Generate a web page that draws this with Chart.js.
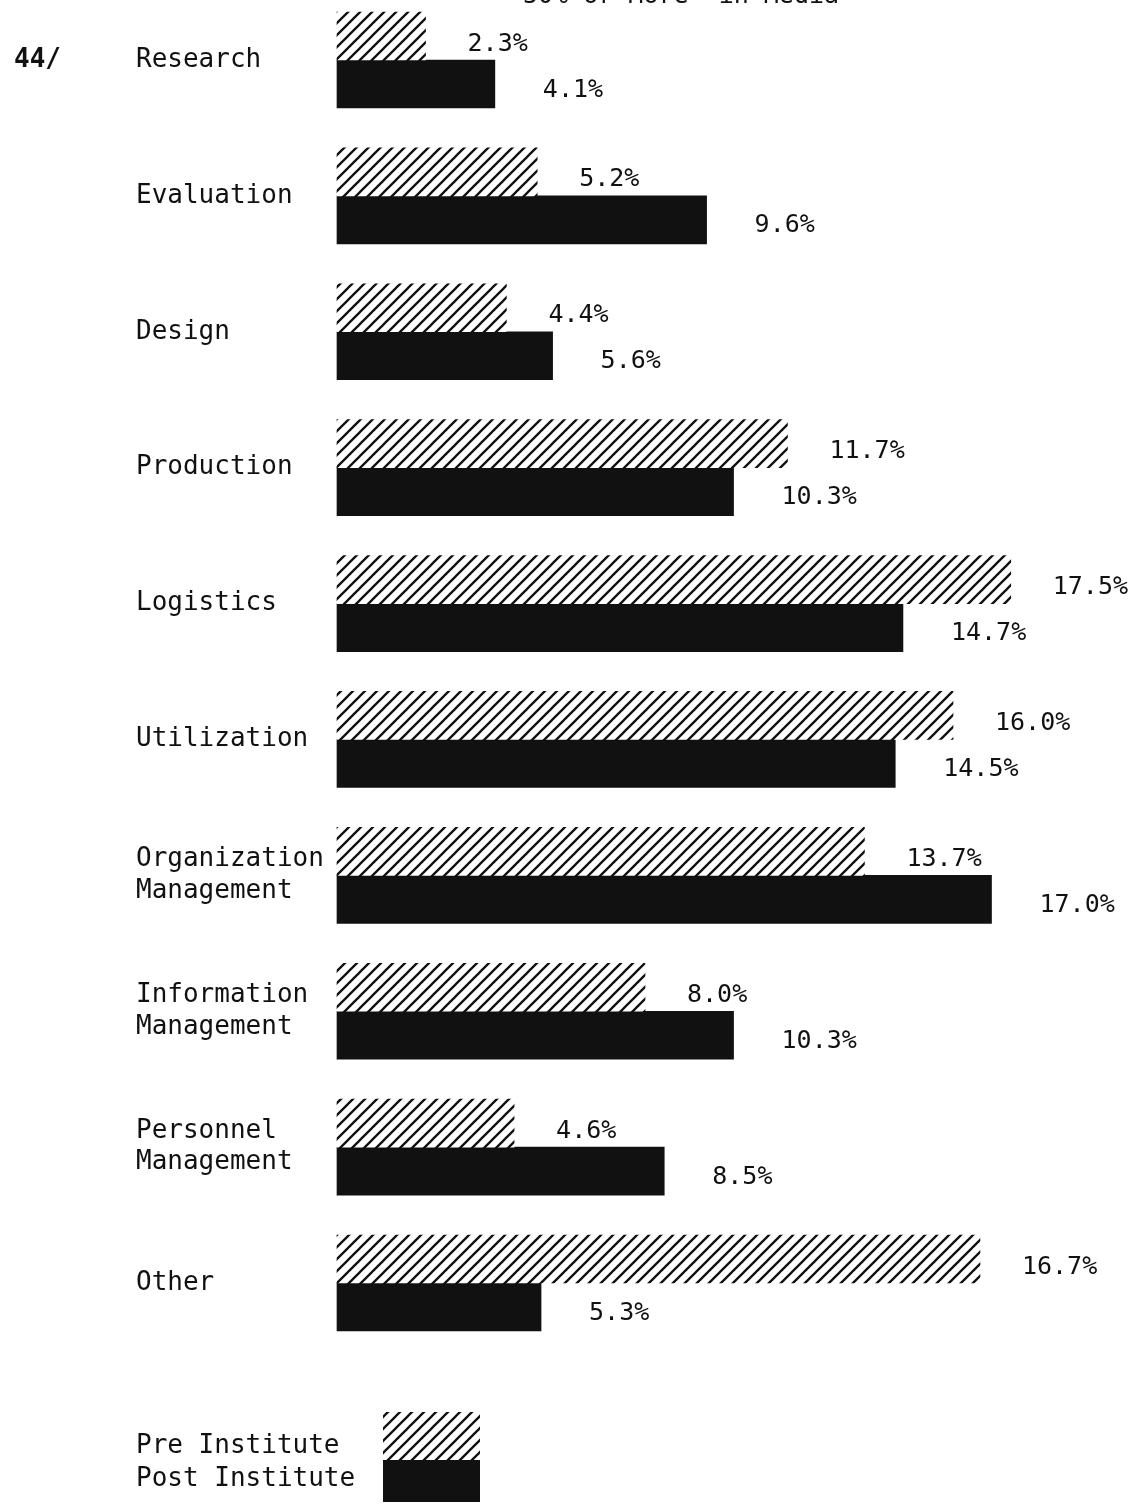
<!DOCTYPE html>
<html>
<head>
<meta charset="utf-8">
<script src="https://cdn.jsdelivr.net/npm/chart.js@4"></script>
<style>
  body { margin: 0; background: #fff; }
  canvas { display: block; }
</style>
</head>
<body>
<canvas id="myChart" width="1132" height="1505"></canvas>
<script>
const categories = [
  "Research",
  "Evaluation",
  "Design",
  "Production",
  "Logistics",
  "Utilization",
  ["Organization", "Management"],
  ["Information", "Management"],
  ["Personnel", "Management"],
  "Other",
];
const preInstitute = [2.3, 5.2, 4.4, 11.7, 17.5, 16.0, 13.7, 8.0, 4.6, 16.7];
const postInstitute = [4.1, 9.6, 5.6, 10.3, 14.7, 14.5, 17.0, 10.3, 8.5, 5.3];
const seriesNames = ["Pre Institute", "Post Institute"];

const FONT = "'DejaVu Sans Mono', monospace";
const INK = "#111";

// diagonal hatch for the "pre" bars
function makeHatch() {
  const c = document.createElement("canvas");
  c.width = 12;
  c.height = 12;
  const g = c.getContext("2d");
  g.fillStyle = "#fff";
  g.fillRect(0, 0, 12, 12);
  g.strokeStyle = INK;
  g.lineWidth = 2.3;
  g.beginPath();
  g.moveTo(0, 12); g.lineTo(12, 0);
  g.moveTo(-3, 3); g.lineTo(3, -3);
  g.moveTo(9, 15); g.lineTo(15, 9);
  g.stroke();
  return g.createPattern(c, "repeat");
}
const hatch = makeHatch();

// value labels, legend and the stray page text
const annotate = {
  id: "annotate",
  afterDatasetsDraw(chart) {
    const ctx = chart.ctx;
    ctx.save();
    ctx.fillStyle = INK;
    ctx.font = "25px " + FONT;
    ctx.textAlign = "left";
    ctx.textBaseline = "middle";
    chart.data.datasets.forEach((ds, di) => {
      chart.getDatasetMeta(di).data.forEach((bar, i) => {
        const gap = di === 0 ? 42 : 48;
        const dy = di === 0 ? 8 : 6;
        ctx.fillText(ds.data[i].toFixed(1) + "%", bar.x + gap, bar.y + dy);
      });
    });

    // page marker and clipped heading
    ctx.font = "bold 26px " + FONT;
    ctx.fillText("44/", 14, 60);
    ctx.font = "25px " + FONT;
    ctx.textBaseline = "alphabetic";
    ctx.fillText('50% or More" in Media', 523, 3);

    // legend
    ctx.textBaseline = "middle";
    ctx.font = "26px " + FONT;
    ctx.fillText(seriesNames[0], 136, 1446);
    ctx.fillText(seriesNames[1], 136, 1479);
    ctx.fillStyle = hatch;
    ctx.fillRect(383, 1412, 97, 48);
    ctx.fillStyle = INK;
    ctx.fillRect(383, 1460, 97, 42);
    ctx.restore();
  },
};

const ctx = document.getElementById("myChart");

new Chart(ctx, {
  type: "bar",
  data: {
    labels: categories,
    datasets: [
      {
        label: seriesNames[0],
        data: preInstitute,
        backgroundColor: hatch,
        borderWidth: 0,
        barThickness: 48,
        clip: false,
      },
      {
        label: seriesNames[1],
        data: postInstitute,
        backgroundColor: INK,
        borderWidth: 0,
        barThickness: 48,
        clip: false,
      },
    ],
  },
  options: {
    indexAxis: "y",
    responsive: false,
    animation: false,
    layout: { padding: { left: 136, top: 60, bottom: 222, right: 25 } },
    plugins: {
      legend: { display: false },
      tooltip: { enabled: false },
    },
    scales: {
      x: { display: false, min: 0, max: 20 },
      y: {
        offset: false,
        grid: { display: false },
        border: { display: false },
        ticks: {
          crossAlign: "far",
          color: INK,
          font: { family: FONT, size: 26 },
          padding: 0,
        },
        afterFit(scale) {
          scale.width = 201;
        },
      },
    },
  },
  plugins: [annotate],
});
</script>
</body>
</html>
